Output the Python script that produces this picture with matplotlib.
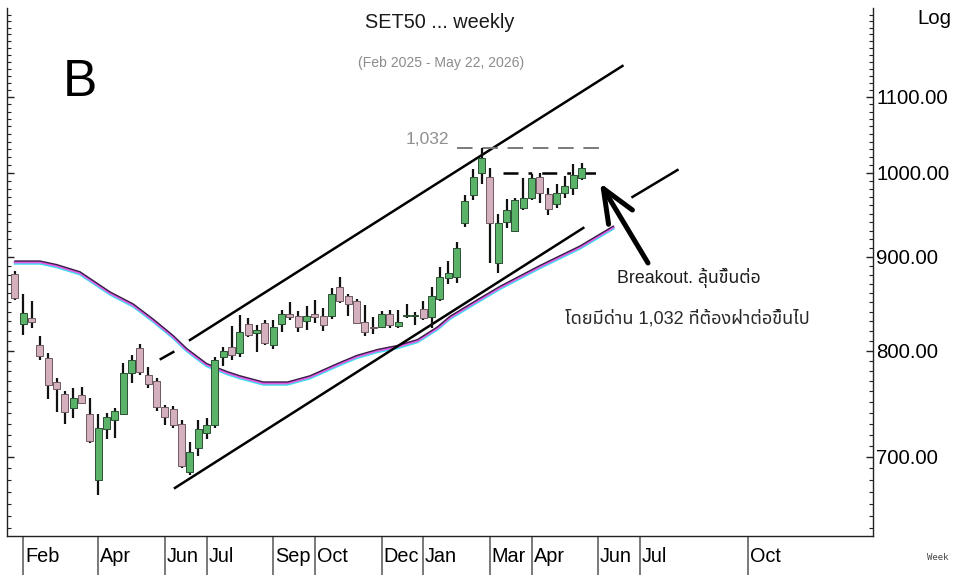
import numpy as np
import pandas as pd
import matplotlib
matplotlib.use("Agg")
import matplotlib.pyplot as plt
import matplotlib.font_manager as fm
import matplotlib.transforms as mtransforms
from matplotlib.ticker import FixedLocator, FuncFormatter, NullFormatter

# ---------------- data ----------------
first_week = "2025-01-27"          # Monday of the first weekly bar
opens  = [881, 827, 833, 806, 793, 769, 758, 744, 757, 739, 680, 725, 733, 739, 778, 803, 776, 770, 745, 743,
          730, 687, 708, 721, 729, 794, 804, 798, 827, 818, 828, 806, 827, 838, 836, 830, 838, 835, 835, 866,
          857, 851, 829, 824, 824, 838, 825, 835, 835, 843, 834, 854, 876, 877, 939, 972, 1000, 995, 893, 940,
          930, 957, 969, 995, 974, 962, 975, 981, 994]
highs  = [884, 859, 851, 815, 798, 773, 760, 763, 764, 754, 739, 740, 744, 788, 796, 807, 784, 773, 747, 746,
          733, 713, 733, 735, 794, 804, 825, 837, 833, 826, 831, 831, 842, 850, 841, 846, 852, 844, 865, 878,
          859, 854, 847, 834, 841, 842, 842, 848, 840, 851, 866, 888, 895, 917, 973, 1005, 1032, 1006, 950, 968,
          969, 993, 999, 1000, 981, 986, 996, 1011, 1012]
lows   = [852, 816, 823, 791, 753, 741, 730, 735, 748, 712, 667, 716, 717, 738, 768, 776, 763, 742, 729, 726,
          690, 684, 701, 716, 726, 785, 791, 794, 814, 799, 806, 802, 819, 831, 819, 821, 828, 820, 832, 849,
          835, 827, 815, 817, 823, 823, 823, 833, 826, 831, 823, 851, 870, 871, 934, 966, 986, 893, 882, 933,
          928, 954, 966, 963, 948, 957, 969, 972, 991]
closes = [855, 839, 829, 795, 766, 762, 741, 754, 749, 714, 726, 736, 742, 778, 791, 779, 767, 745, 736, 729,
          692, 704, 725, 729, 791, 800, 796, 819, 816, 821, 808, 824, 838, 834, 824, 836, 834, 826, 859, 851,
          848, 828, 819, 823, 838, 826, 829, 837, 837, 833, 857, 877, 882, 910, 965, 995, 1019, 939, 939, 954,
          966, 969, 994, 975, 956, 975, 984, 997, 1006]

# moving average (week index, value)
ma_week  = [0, 3, 5, 7.8, 11.4, 14.2, 16.6, 19, 20.6, 23, 25.5, 27, 29.8, 32.7, 35.4, 38.7, 41, 43.5,
            45.9, 48.3, 50.7, 52.2, 55.2, 58.2, 63, 67.8, 71.8]
ma_value = [894, 894, 890, 882, 860, 847, 831, 814, 801, 786, 778, 774, 768, 768, 774, 786, 794, 800,
            804, 810, 823, 834, 850, 866, 889, 911, 934]

month_dates  = ["2025-02-03", "2025-04-07", "2025-06-02", "2025-07-07", "2025-09-01", "2025-10-06",
                "2025-12-01", "2026-01-05", "2026-03-02", "2026-04-06", "2026-06-01", "2026-07-06",
                "2026-10-05"]
month_labels = ["Feb", "Apr", "Jun", "Jul", "Sep", "Oct", "Dec", "Jan", "Mar", "Apr", "Jun", "Jul", "Oct"]

y_ticks = [700, 800, 900, 1000, 1100]
peak_level = 1032
range_top = 1000

# analyst trend lines (week index, value)
upper_channel_w = [21.0, 72.9]
upper_channel_v = [810.7, 1143.7]
upper_stub_w = [17.5, 19.0]
upper_stub_v = [791.6, 798.6]
lower_channel_w = [19.2, 68.2]
lower_channel_v = [673.3, 933.2]
lower_ext_w = [74.1, 79.5]
lower_ext_v = [970.2, 1003.6]
peak_line_w = [53.1, 70.5]
range_line_w = [58.6, 70.5]

# ---------------- fonts ----------------
names = {f.name for f in fm.fontManager.ttflist}
if "Liberation Sans Narrow" in names:
    NARROW, S = "Liberation Sans Narrow", 1.0
else:
    NARROW, S = "Liberation Sans", 0.84


def find_thai():
    try:
        from fontTools.ttLib import TTFont
    except Exception:
        return None
    found = []
    for f in fm.fontManager.ttflist:
        try:
            tt = TTFont(f.fname, fontNumber=0, lazy=True)
            cmap = tt.getBestCmap()
            if cmap and 0x0E25 in cmap and 0x0E49 in cmap and 0x0E14 in cmap:
                found.append(f.name)
        except Exception:
            pass
    if not found:
        return None
    for pref in ["Noto Sans Thai", "Noto Sans Thai UI", "Tahoma", "Loma", "Garuda", "Norasi", "Sarabun"]:
        if pref in found:
            return pref
    return found[0]


THAI = find_thai()
fam_mix = [NARROW] + ([THAI] if THAI else []) + ["DejaVu Sans"]

# ---------------- figure ----------------
W, H = 954, 575
fig = plt.figure(figsize=(W / 100, H / 100), dpi=100)
fig.patch.set_facecolor("white")
ax_l, ax_r, ax_t, ax_b = 7.3, 873.3, 8.0, 535.7
ax = fig.add_axes([ax_l / W, 1 - ax_b / H, (ax_r - ax_l) / W, (ax_b - ax_t) / H])
ax.set_yscale("log")
ax.set_xlim(-0.92, 103.0)
ax.set_ylim(634.1, 1230)

x = np.arange(len(opens))
o = np.array(opens, float)
h = np.array(highs, float)
lo = np.array(lows, float)
c = np.array(closes, float)
up = c >= o

# wicks
ax.vlines(x, lo, h, color="#111111", lw=1.6, zorder=3)
# bodies
green, pink = "#5bb36a", "#d4b0be"
ax.bar(x[up], (c - o)[up], bottom=o[up], width=0.84, color=green, edgecolor="#2b4f33",
       lw=0.7, zorder=4)
ax.bar(x[~up], (o - c)[~up], bottom=c[~up], width=0.84, color=pink, edgecolor="#6f5a62",
       lw=0.7, zorder=4)

# moving average (drawn with coloured fringes like the reference)
tr_dn = mtransforms.offset_copy(ax.transData, fig=fig, x=0, y=-1.4, units="dots")
tr_up = mtransforms.offset_copy(ax.transData, fig=fig, x=0, y=1.1, units="dots")
ax.plot(ma_week, ma_value, color="#3fe3ee", lw=1.8, transform=tr_dn, zorder=2)
ax.plot(ma_week, ma_value, color="#e15ce8", lw=1.8, zorder=2)
ax.plot(ma_week, ma_value, color="#3a1f45", lw=1.0, transform=tr_up, zorder=2)

# channel lines
ax.plot(upper_channel_w, upper_channel_v, color="black", lw=1.8, zorder=2)
ax.plot(upper_stub_w, upper_stub_v, color="black", lw=1.8, zorder=2)
ax.plot(lower_channel_w, lower_channel_v, color="black", lw=1.8, zorder=2)
ax.plot(lower_ext_w, lower_ext_v, color="black", lw=1.8, zorder=2)

# horizontal resistance lines
ax.plot(peak_line_w, [peak_level, peak_level], color="#7a7a7a", lw=1.4,
        dashes=(8, 5), zorder=2)
ax.plot(range_line_w, [range_top, range_top], color="black", lw=1.8,
        dashes=(6, 4, 1.5, 4), zorder=2)

# ---------------- axes styling ----------------
ax.spines["top"].set_visible(False)
for side in ["left", "right", "bottom"]:
    ax.spines[side].set_color("#222222")
    ax.spines[side].set_linewidth(1.0)

ax.yaxis.set_major_locator(FixedLocator(y_ticks))
ax.yaxis.set_major_formatter(FuncFormatter(lambda v, p: f"{v:.2f}"))
minor = [v for v in range(640, 1230, 10) if v not in y_ticks]
ax.yaxis.set_minor_locator(FixedLocator(minor))
ax.yaxis.set_minor_formatter(NullFormatter())
ax.tick_params(axis="y", which="both", direction="in", left=True, right=True,
               labelleft=False, labelright=True, color="#222222")
ax.tick_params(axis="y", which="major", length=5, width=1, pad=2,
               labelsize=17.5 * S, labelcolor="black")
ax.tick_params(axis="y", which="minor", length=3, width=0.8)
for lab in ax.get_yticklabels():
    lab.set_fontfamily(NARROW)

start = pd.Timestamp(first_week)
month_idx = [(pd.Timestamp(d) - start).days / 7 for d in month_dates]
ax.set_xticks(month_idx)
ax.set_xticklabels([])
ax.tick_params(axis="x", which="major", direction="out", length=29, width=1.1,
               color="#555555", bottom=True, top=False)
ax.tick_params(axis="x", which="minor", bottom=False)

xt = ax.get_xaxis_transform()
lab_y = -(557 - ax_b) / (ax_b - ax_t)
for mi, ml in zip(month_idx, month_labels):
    ax.text(mi + 0.22, lab_y, ml, transform=xt, ha="left", va="center",
            fontsize=17 * S, family=NARROW, color="black", clip_on=False)

# ---------------- texts ----------------
def fx(px):
    return px / W


def fy(py):
    return 1 - py / H


fig.text(fx(440), fy(22), "SET50 ... weekly", ha="center", va="center",
         fontsize=17 * S, family=NARROW, color="#1a1a1a")
fig.text(fx(441), fy(63), "(Feb 2025 - May 22, 2026)", ha="center", va="center",
         fontsize=12 * S, family=NARROW, color="#8c8c8c")
fig.text(fx(80), fy(83), "B", ha="center", va="center",
         fontsize=44 * S, family=NARROW, color="black")
fig.text(fx(917), fy(19), "Log", ha="left", va="center",
         fontsize=17.5 * S, family=NARROW, color="black")
fig.text(fx(927), fy(558), "Week", ha="left", va="center",
         fontsize=6.5, family="DejaVu Sans Mono", color="#444444")
fig.text(fx(406), fy(140), "1,032", ha="left", va="center",
         fontsize=15 * S, family=NARROW, color="#8f8f8f")
fig.text(fx(617), fy(278), "Breakout. ลุ้นขึ้นต่อ", ha="left", va="center",
         fontsize=15.2 * S, family=fam_mix, color="#1e1e1e")
fig.text(fx(565), fy(319), "โดยมีด่าน 1,032 ที่ต้องฝ่าต่อขึ้นไป", ha="left", va="center",
         fontsize=15.5 * S, family=fam_mix, color="#2a2a2a")

# arrow
ax.annotate("", xy=(600, H - 183), xycoords="figure pixels",
            xytext=(648, H - 263), textcoords="figure pixels",
            arrowprops=dict(arrowstyle="->,head_length=2.4,head_width=1.0",
                            lw=3.6, color="black", mutation_scale=10,
                            shrinkA=0, shrinkB=0))

fig.savefig("out.png", dpi=100, facecolor="white")
